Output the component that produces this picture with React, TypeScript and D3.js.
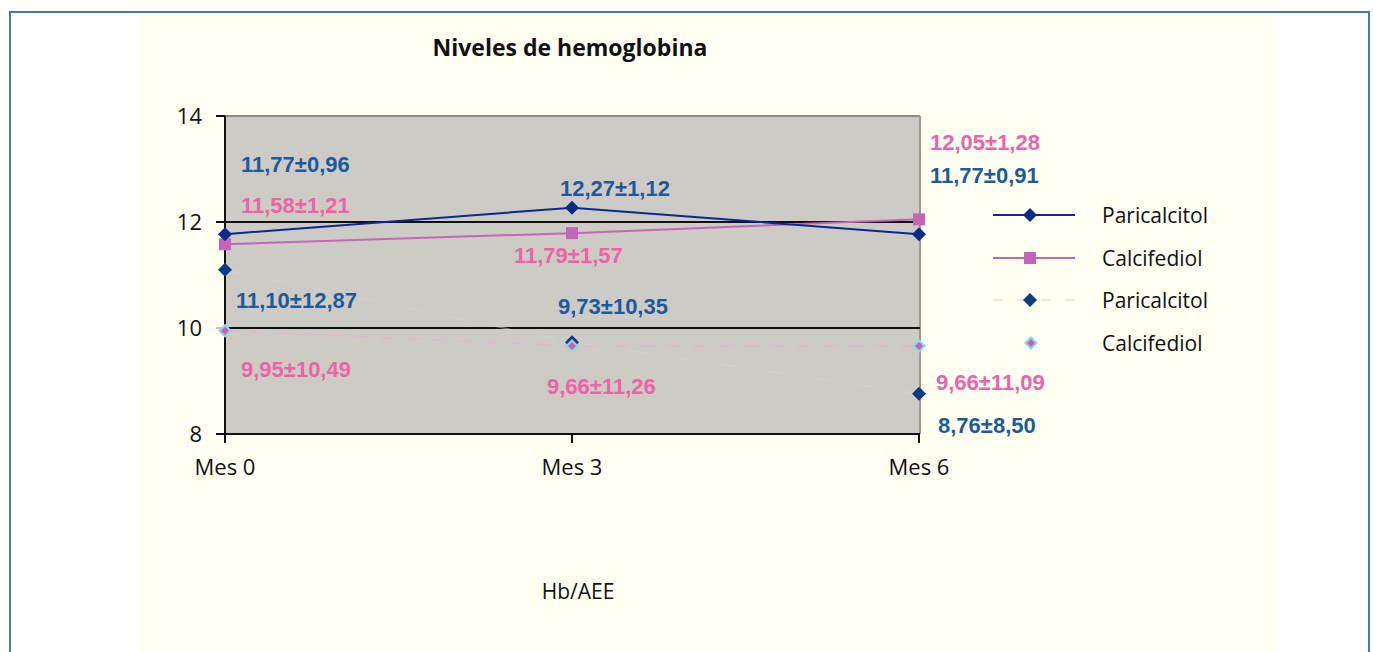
import React from "react";
import * as d3 from "d3";

const categories = ["Mes 0", "Mes 3", "Mes 6"];
const yTicks = [8, 10, 12, 14];
const paricalcitol = [11.77, 12.27, 11.77];
const calcifediol = [11.58, 11.79, 12.05];
const paricalcitol2 = [11.1, 9.73, 8.76];
const calcifediol2 = [9.95, 9.66, 9.66];
const paricalcitolLabels = ["11,77±0,96", "12,27±1,12", "11,77±0,91"];
const calcifediolLabels = ["11,58±1,21", "11,79±1,57", "12,05±1,28"];
const paricalcitol2Labels = ["11,10±12,87", "9,73±10,35", "8,76±8,50"];
const calcifediol2Labels = ["9,95±10,49", "9,66±11,26", "9,66±11,09"];
const legendNames = ["Paricalcitol", "Calcifediol", "Paricalcitol", "Calcifediol"];

// label offsets (layout) relative to data point: [dx, dy] (text start x, baseline)
const parOff = [[16, -62], [-12, -12], [11, -51]];
const calOff = [[16, -31], [-58, 30], [11, -69]];
const par2Off = [[11, 38], [-14, -28], [19, 39]];
const cal2Off = [[16, 46], [-25, 48], [17, 44]];

const BLUE_TXT = "#1d5a9c";
const PINK_TXT = "#ec64a4";
const FONT = "Open Sans, sans-serif";
const LFS = 22;

export default function App() {
  const left = 225, right = 920, top = 116, bottom = 434;
  const x = d3.scalePoint<string>().domain(categories).range([left, right - 1]);
  const y = d3.scaleLinear().domain([8, 14]).range([bottom, top]);
  const line = d3
    .line<number>()
    .x((_, i) => x(categories[i]) as number)
    .y((d) => y(d));

  const diamond = (cx: number, cy: number, r: number) =>
    `M${cx},${cy - r}L${cx + r},${cy}L${cx},${cy + r}L${cx - r},${cy}Z`;

  const labelSet = (
    vals: number[],
    labels: string[],
    off: number[][],
    color: string
  ) =>
    vals.map((v, i) => (
      <text
        key={labels[i] + i}
        x={(x(categories[i]) as number) + off[i][0]}
        y={y(v) + off[i][1]}
        fill={color}
        fontFamily="Liberation Sans, Arial, sans-serif"
        fontWeight="bold"
        fontSize={LFS}
      >
        {labels[i]}
      </text>
    ));

  const legendY = [215, 258, 300, 343];

  return (
    <svg
      width={1373}
      height={652}
      style={{ position: "absolute", left: 0, top: 0, display: "block" }}
    >
      <rect x={0} y={0} width={1373} height={652} fill="#ffffff" />
      <rect x={139} y={13} width={1139} height={645} fill="#fffff2" />
      <rect
        x={10}
        y={12}
        width={1359}
        height={660}
        fill="none"
        stroke="#4a76b8"
        strokeWidth={2}
      />
      <text
        x={570}
        y={56}
        textAnchor="middle"
        fontFamily={FONT}
        fontWeight="bold"
        fontSize={23}
        fill="#111"
      >
        Niveles de hemoglobina
      </text>

      {/* plot area */}
      <rect x={left} y={top} width={right - left} height={bottom - top} fill="#cecbc7" />
      <line x1={left} x2={right} y1={top} y2={top} stroke="#8a8a8a" strokeWidth={2} />
      <line x1={right} x2={right} y1={top} y2={bottom} stroke="#9a9a9a" strokeWidth={2} />
      {[10, 12].map((t) => (
        <line key={t} x1={left} x2={right} y1={y(t)} y2={y(t)} stroke="#111" strokeWidth={2} />
      ))}
      <line x1={left} x2={right} y1={bottom} y2={bottom} stroke="#111" strokeWidth={2} />
      <line x1={left} x2={left} y1={top} y2={bottom + 8} stroke="#111" strokeWidth={2} />
      {yTicks.map((t) => (
        <g key={t}>
          <line
            x1={left - 9}
            x2={left}
            y1={y(t)}
            y2={y(t)}
            stroke={t === 10 ? "#888" : "#111"}
            strokeWidth={t === 10 ? 1 : 2}
          />
          <text
            x={202}
            y={y(t) + 8}
            textAnchor="end"
            fontFamily={FONT}
            fontSize={22}
            fill="#111"
          >
            {t}
          </text>
        </g>
      ))}
      {categories.map((c) => (
        <g key={c}>
          <line
            x1={x(c) as number}
            x2={x(c) as number}
            y1={bottom}
            y2={bottom + 9}
            stroke="#111"
            strokeWidth={2}
          />
          <text
            x={x(c) as number}
            y={bottom + 41}
            textAnchor="middle"
            fontFamily={FONT}
            fontSize={22}
            fill="#111"
          >
            {c}
          </text>
        </g>
      ))}

      {/* faint dashed series */}
      <path
        d={line(paricalcitol2) || ""}
        fill="none"
        stroke="#d8d6d0"
        strokeWidth={1.5}
        strokeDasharray="16 30"
        opacity={0.45}
      />
      <path
        d={line(calcifediol2) || ""}
        fill="none"
        stroke="#dcb8cb"
        strokeWidth={1.5}
        strokeDasharray="14 12"
        opacity={0.85}
      />
      {/* solid series */}
      <path d={line(calcifediol) || ""} fill="none" stroke="#c466b8" strokeWidth={2} />
      <path d={line(paricalcitol) || ""} fill="none" stroke="#0a2a8c" strokeWidth={2} />

      {calcifediol.map((v, i) => (
        <rect
          key={"c" + i}
          x={(x(categories[i]) as number) - 6}
          y={y(v) - 6}
          width={12}
          height={12}
          fill="#c466b8"
        />
      ))}
      {paricalcitol.map((v, i) => (
        <path key={"p" + i} d={diamond(x(categories[i]) as number, y(v), 7)} fill="#0a2a8c" />
      ))}
      {paricalcitol2.map((v, i) => (
        <path key={"p2" + i} d={diamond(x(categories[i]) as number, y(v), 7)} fill="#0d3a82" />
      ))}
      {calcifediol2.map((v, i) => (
        <g key={"c2" + i}>
          <path d={diamond(x(categories[i]) as number, y(v), 7)} fill="#8fd6e2" />
          <path d={diamond(x(categories[i]) as number, y(v), 4)} fill="#c464b0" />
        </g>
      ))}

      {labelSet(paricalcitol, paricalcitolLabels, parOff, BLUE_TXT)}
      {labelSet(calcifediol, calcifediolLabels, calOff, PINK_TXT)}
      {labelSet(paricalcitol2, paricalcitol2Labels, par2Off, BLUE_TXT)}
      {labelSet(calcifediol2, calcifediol2Labels, cal2Off, PINK_TXT)}

      {/* legend */}
      {legendNames.map((n, i) => {
        const ly = legendY[i];
        return (
          <g key={n + i}>
            {i === 0 && (
              <>
                <line x1={993} x2={1075} y1={ly} y2={ly} stroke="#0a2a8c" strokeWidth={2} />
                <path d={diamond(1030, ly, 7)} fill="#0a2a8c" />
              </>
            )}
            {i === 1 && (
              <>
                <line x1={993} x2={1075} y1={ly} y2={ly} stroke="#c466b8" strokeWidth={2} />
                <rect x={1024} y={ly - 6} width={12} height={12} fill="#c466b8" />
              </>
            )}
            {i === 2 && (
              <>
                <line
                  x1={993}
                  x2={1075}
                  y1={ly}
                  y2={ly}
                  stroke="#e4e2da"
                  strokeWidth={1.5}
                  strokeDasharray="10 14"
                />
                <path d={diamond(1030, ly, 7)} fill="#0d3a82" />
              </>
            )}
            {i === 3 && (
              <>
                <path d={diamond(1031, ly, 7)} fill="#8fd6e2" />
                <path d={diamond(1031, ly, 4)} fill="#c464b0" />
              </>
            )}
            <text x={1102} y={ly + 8} fontFamily={FONT} fontSize={21} fill="#111">
              {n}
            </text>
          </g>
        );
      })}

      <text
        x={578}
        y={599}
        textAnchor="middle"
        fontFamily={FONT}
        fontSize={21}
        fill="#111"
      >
        Hb/AEE
      </text>
    </svg>
  );
}
